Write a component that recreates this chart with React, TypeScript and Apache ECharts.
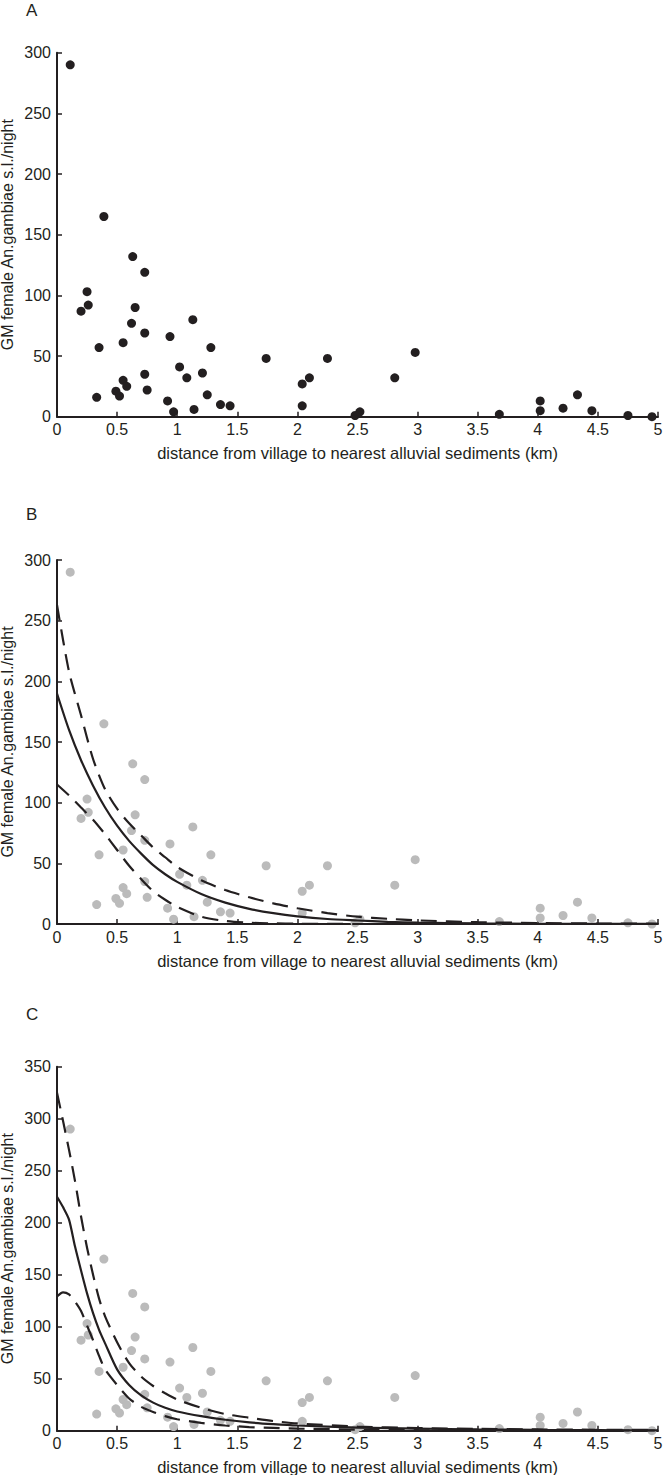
import React, { useEffect, useRef } from "react";
import * as echarts from "echarts";

// Observed data (panel A, repeated grey in B and C)
const distKm = [0.11,0.39,0.63,0.73,0.25,0.26,0.20,0.65,0.62,1.13,0.73,0.94,0.55,0.35,1.28,1.74,2.25,1.02,0.73,1.21,1.08,2.10,0.55,2.04,0.58,0.75,0.49,0.52,0.33,1.25,0.92,1.36,1.44,2.04,1.14,0.97,2.98,2.81,2.48,2.52,3.68,4.02,4.02,4.21,4.33,4.45,4.75,4.95];
const gmCount = [290,165,132,119,103,92,87,90,77,80,69,66,61,57,57,48,48,41,35,36,32,32,30,27,25,22,21,17,16,18,13,10,9,9,6,4,53,32,1,4,2,13,5,7,18,5,1,0];

// Panel B fitted curve
const fitXB = [0,0.1,0.2,0.3,0.4,0.5,0.6,0.7,0.8,0.9,1.0,1.2,1.4,1.6,1.8,2.0,2.25,2.5,2.75,3,3.5,4,4.5,5];
const fitB = [190,160,135,114,96,81,68.5,58,48.5,41,34.7,24.7,17.6,12.5,8.9,6.3,4.1,2.9,1.8,1.2,0.5,0.2,0.1,0.05];
const upperB = [263,208,172,136,111,95,83,73,63,55,47,36,28,22,17,13,9,6,4.3,3,1.5,0.8,0.4,0.2];
const lowerB = [115,106,96,86,74,61,48,37,27,20,14,6,2.5,1,0.5,0.2,0.1,0,0,0,0,0,0,0];

// Panel C fitted curve
const fitXC = [0,0.05,0.1,0.15,0.2,0.25,0.3,0.35,0.4,0.5,0.6,0.7,0.8,0.9,1.0,1.2,1.4,1.6,1.8,2.0,2.5,3,3.5,4,4.5,5];
const fitC = [225,215,203,177,154,132,113,97,84,59,44,34,27,22,18.5,14,10.5,8,6.3,5,3,2,1.3,0.8,0.5,0.3];
const upperC = [325,298,270,240,206,176,150,127,110,85,65,52,43,36,30,22,16,12.5,9.3,7,4,2.5,1.7,1.2,0.9,0.7];
const lowerC = [129,133,131,124,115,101,87,72,59,44,31,23,18,14,11,7.5,5,3.5,2.7,2,1,0.5,0.3,0.2,0.1,0.1];

const panelLetters = ["A", "B", "C"];
const yMaxes = [300, 300, 350];
const xTitle = "distance from village to nearest alluvial sediments (km)";
const yTitle = "GM female An.gambiae s.l./night";

const FONT = "Liberation Sans, Arial, Helvetica, sans-serif";
const INK = "#231f20";
const GREY = "#bbbbbb";

const zip = (xs: number[], ys: number[]) => xs.map((x, i) => [x, ys[i]]);

export default function App() {
  const ref = useRef<HTMLDivElement>(null);
  useEffect(() => {
    document.body.style.margin = "0";
    if (!ref.current) return;
    const chart = echarts.init(ref.current, undefined, { renderer: "svg" });
    const tops = [52.7, 560, 1066.7];
    const grids = tops.map((t) => ({
      left: 57,
      top: t,
      width: 601,
      height: 364,
      containLabel: false,
      outerBoundsMode: "none",
    }));
    const xAxes = tops.map((_, i) => ({
      type: "value",
      gridIndex: i,
      min: 0,
      max: 5,
      interval: 0.5,
      name: xTitle,
      nameLocation: "middle",
      nameGap: 28,
      nameMoveOverlap: false,
      nameTextStyle: { fontFamily: FONT, fontSize: 16.5, color: INK },
      axisLine: { show: true, lineStyle: { color: INK, width: 2 } },
      axisTick: { show: true, inside: true, length: 5, lineStyle: { color: INK, width: 1.5 } },
      axisLabel: { fontFamily: FONT, fontSize: 16, color: INK, margin: 5 },
      splitLine: { show: false },
    }));
    const yAxes = tops.map((_, i) => ({
      type: "value",
      gridIndex: i,
      min: 0,
      max: yMaxes[i],
      interval: 50,
      name: yTitle,
      nameLocation: "middle",
      nameGap: 42,
      nameMoveOverlap: false,
      nameTextStyle: { fontFamily: FONT, fontSize: 16, color: INK },
      axisLine: { show: true, lineStyle: { color: INK, width: 2 } },
      axisTick: { show: true, inside: true, length: 5, lineStyle: { color: INK, width: 1.5 } },
      axisLabel: { fontFamily: FONT, fontSize: 16, color: INK, margin: 6 },
      splitLine: { show: false },
    }));
    const pts = zip(distKm, gmCount);
    const line = (i: number, xs: number[], ys: number[], dashed: boolean) => ({
      type: "line",
      xAxisIndex: i,
      yAxisIndex: i,
      data: zip(xs, ys),
      showSymbol: false,
      smooth: 0.25,
      z: 5,
      lineStyle: { color: INK, width: 2.2, type: dashed ? [16, 9] : "solid" },
    });
    const scatter = (i: number, color: string) => ({
      type: "scatter",
      xAxisIndex: i,
      yAxisIndex: i,
      data: pts,
      symbolSize: 9,
      z: 3,
      itemStyle: { color, opacity: 1 },
    });
    chart.setOption({
      animation: false,
      backgroundColor: "#ffffff",
      grid: grids,
      xAxis: xAxes,
      yAxis: yAxes,
      series: [
        scatter(0, INK),
        scatter(1, GREY),
        line(1, fitXB, upperB, true),
        line(1, fitXB, fitB, false),
        line(1, fitXB, lowerB, true),
        scatter(2, GREY),
        line(2, fitXC, upperC, true),
        line(2, fitXC, fitC, false),
        line(2, fitXC, lowerC, true),
      ],
      graphic: panelLetters.map((t, i) => ({
        type: "text",
        left: 26,
        top: [2, 506, 1006][i],
        style: { text: t, fontFamily: FONT, fontSize: 17, fill: INK },
      })),
    });
    return () => chart.dispose();
  }, []);
  return <div ref={ref} style={{ width: 664, height: 1475 }} />;
}
